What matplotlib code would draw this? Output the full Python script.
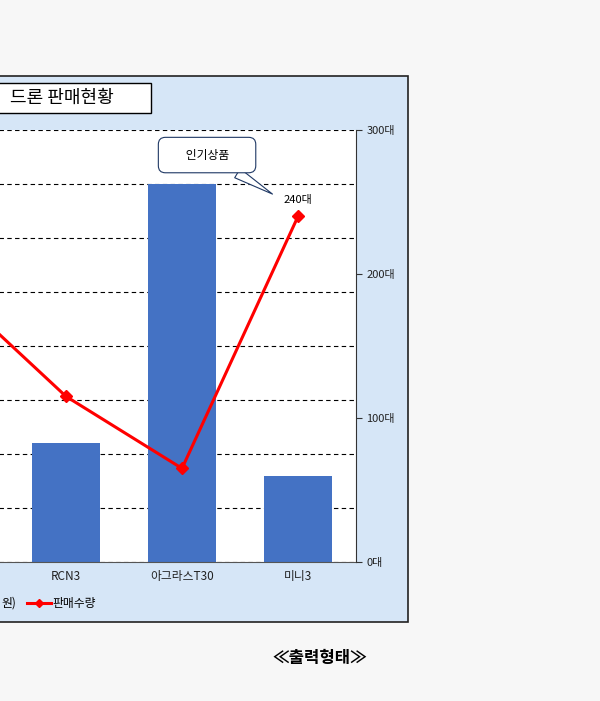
import matplotlib
matplotlib.use("Agg")
import matplotlib.pyplot as plt
from matplotlib.patches import Rectangle
from matplotlib.lines import Line2D

plt.rcParams['font.family'] = ['Noto Sans CJK KR', 'DejaVu Sans']

categories = ["매빅", "RCN3", "아그라스T30", "미니3"]
price = [35, 22, 70, 16]          # 판매가격(만원), left axis
sales = [190, 115, 65, 240]       # 판매수량, right axis
right_ticks = [0, 100, 200, 300]
right_labels = ["0대", "100대", "200대", "300대"]

W, H = 600, 701
fig = plt.figure(figsize=(6, 7.01), dpi=100, facecolor="#f7f7f7")

def fx(px): return px / W
def fy(py): return 1 - py / H

# chart panel
fig.patches.append(Rectangle((fx(-5), fy(622)), fx(413), (622 - 76) / H,
                             transform=fig.transFigure, facecolor="#d6e6f7",
                             edgecolor="#222222", lw=1.2, zorder=-5))

ax = fig.add_axes([fx(-108), fy(562), 464 / W, 432 / H])
ax.set_zorder(1)
ax.set_facecolor("white")
x = list(range(len(categories)))
ax.bar(x, price, width=0.58, color="#4472c4", zorder=2)
ax.set_xlim(-0.5, 3.5)
ax.set_ylim(0, 80)
ax.set_yticks(range(0, 81, 10))
ax.yaxis.grid(True, linestyle=(0, (4, 3)), color="black", lw=0.8, zorder=1)
ax.set_axisbelow(True)
ax.tick_params(axis='y', left=False, labelleft=False)
ax.set_xticks(x)
ax.set_xticklabels(categories, fontsize=8.5, color="#222222")
ax.tick_params(axis='x', length=0, pad=6)
for s in ["top", "left", "right"]:
    ax.spines[s].set_visible(False)
ax.spines["bottom"].set_color("#555555")

ax2 = ax.twinx()
ax2.set_zorder(2)
ax2.plot(x, sales, color="red", lw=2.2, marker="D", markersize=6, zorder=3)
ax2.set_ylim(0, 300)
ax2.set_yticks(right_ticks)
ax2.set_yticklabels(right_labels, fontsize=8, color="#222222")
ax2.tick_params(axis='y', length=4, direction='out', color="#333333")
for s in ["top", "left", "bottom"]:
    ax2.spines[s].set_visible(False)
ax2.spines["right"].set_color("#333333")

ax2.text(x[3], sales[3] + 8, "240대", ha="center", va="bottom", fontsize=8)
ax2.annotate("      인기상품      ", xy=(2.78, 255.5), xytext=(2.216, 282.6),
             ha="center", va="center", fontsize=8.5,
             bbox=dict(boxstyle="round,pad=0.95,rounding_size=0.6", fc="white", ec="#1f3864", lw=0.8),
             arrowprops=dict(arrowstyle="wedge,tail_width=0.9", fc="white", ec="#1f3864", lw=0.8,
                             shrinkA=0, shrinkB=0))

# title box
fig.patches.append(Rectangle((fx(-10), fy(113)), fx(161), 30 / H, transform=fig.transFigure,
                             facecolor="white", edgecolor="black", lw=1, zorder=5))
fig.text(fx(10), fy(98), "드론 판매현황", fontsize=13, va="center", ha="left", zorder=6)

# legend
fig.lines.append(Line2D([fx(27), fx(51)], [fy(603), fy(603)], transform=fig.transFigure,
                        color="red", lw=2.2, zorder=6))
fig.lines.append(Line2D([fx(39)], [fy(603)], transform=fig.transFigure,
                        color="red", marker="D", markersize=4, zorder=6))
fig.text(fx(52), fy(603), "판매수량", fontsize=8.5, va="center", ha="left", zorder=6)
fig.text(fx(1), fy(603), "원)", fontsize=8.5, va="center", ha="left", zorder=6)

fig.text(fx(320), fy(658), "≪출력형태≫", fontsize=12, fontweight="bold", ha="center", va="center")

fig.savefig("out.png", dpi=100, facecolor=fig.get_facecolor())
